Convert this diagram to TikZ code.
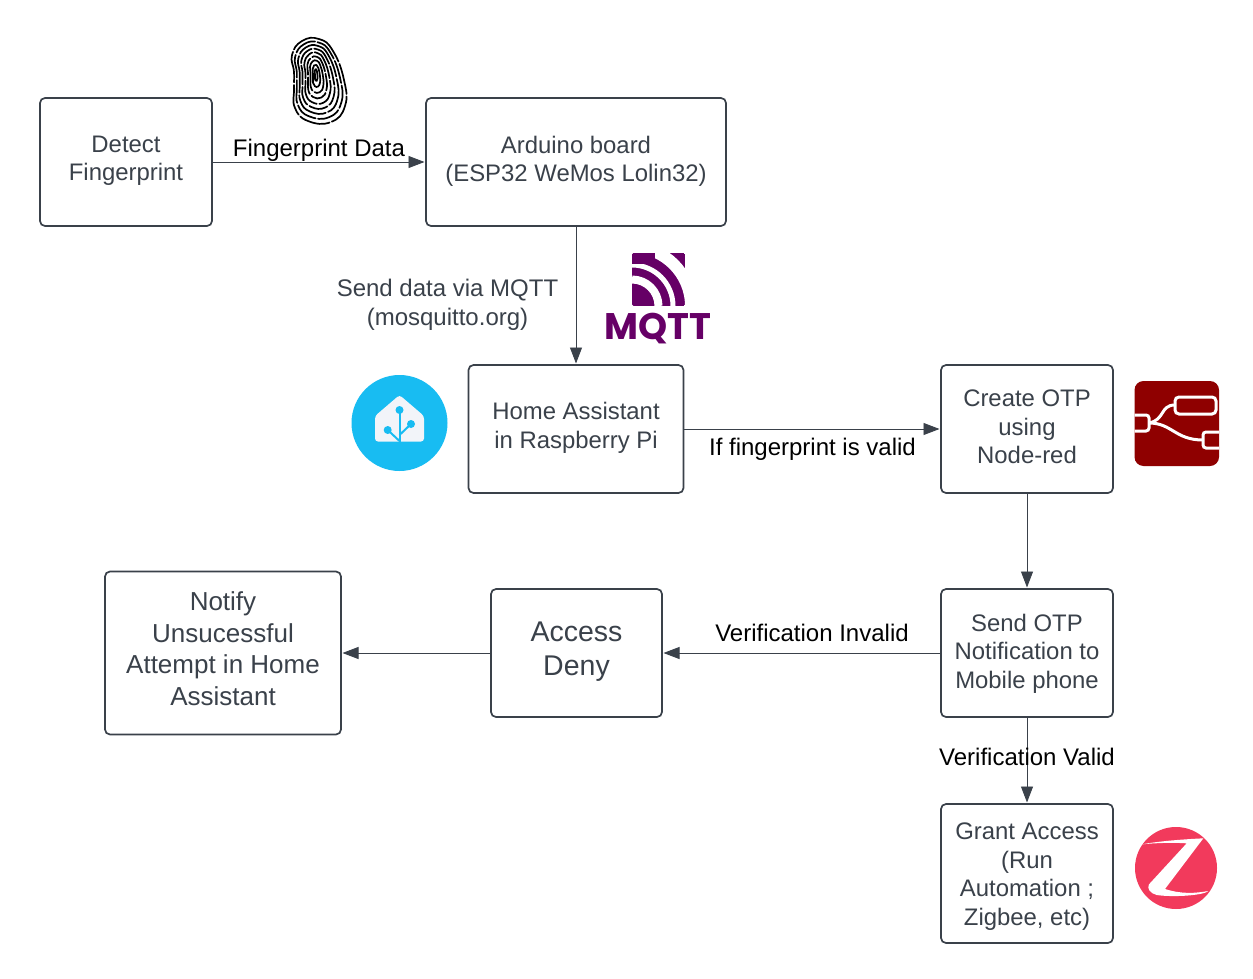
\documentclass[tikz,border=0pt]{standalone}
\usepackage{fontspec}
\setmainfont{Liberation Sans}
\newfontfamily\logofont{Poppins}
\usetikzlibrary{arrows.meta}
\definecolor{ink}{HTML}{3A414A}
\definecolor{mqttp}{HTML}{660066}
\definecolor{hablue}{HTML}{18BCF2}
\definecolor{hawhite}{HTML}{F2F4F9}
\definecolor{nred}{HTML}{8F0000}
\definecolor{zig}{HTML}{F23A5C}
\tikzset{
  box/.style={draw=ink,line width=1.7pt,rounded corners=5pt,inner sep=0pt,outer sep=0pt,align=center,text=ink,font=\fontsize{23.9}{28.5}\selectfont},
  conn/.style={draw=ink,line width=0.9pt,shorten >=1.5pt,-{Triangle[length=16pt,width=12pt]}},
  lab/.style={align=center,inner sep=0pt,text=black,font=\fontsize{24}{28.5}\selectfont},
  fp/.style={line width=1.7pt,line cap=round,black},
}
% name, x, y, w, h, text shift, options, text
\newcommand{\mybox}[8]{\node[box,minimum width=#4 pt,minimum height=#5 pt,#7] (#1) at (#2,#3) {};
  \node[box,draw=none,#7] (#1t) at (#2,#3+#6) {#8};}
\begin{document}
\begin{tikzpicture}[x=1pt,y=-1pt]
\useasboundingbox (0,0) rectangle (1253,979);
\fill[white] (0,0) rectangle (1253,979);
% boxes
\mybox{detect}{126}{162}{172}{128}{-1.3}{}{Detect\\Fingerprint}
\mybox{arduino}{576}{162}{300}{128}{-0.5}{}{Arduino board\\(ESP32 WeMos Lolin32)}
\mybox{ha}{576}{429}{215}{128}{-1}{}{Home Assistant\\in Raspberry Pi}
\mybox{otp}{1027}{429}{172}{128}{-2}{}{Create OTP\\using\\Node-red}
\mybox{send}{1027}{653}{172}{128}{0.4}{}{Send OTP\\Notification to\\Mobile phone}
\mybox{deny}{576.5}{653}{171}{128}{-1}{font=\fontsize{28.5}{34}\selectfont}{Access\\Deny}
\mybox{notify}{223}{653}{236}{163}{-4.5}{font=\fontsize{26}{31.5}\selectfont}{Notify\\Unsucessful\\Attempt in Home\\Assistant}
\mybox{grant}{1027}{873.5}{172}{139}{3}{}{Grant Access\\(Run\\Automation ;\\Zigbee, etc)}
% connectors
\draw[conn] (detect) -- (arduino);
\draw[conn] (arduino) -- (ha);
\draw[conn] (ha) -- (otp);
\draw[conn] (otp) -- (send);
\draw[conn] (send) -- (deny);
\draw[conn] (deny) -- (notify);
\draw[conn] (send) -- (grant);
% labels
\node[lab] (l1) at (319,150) {Fingerprint Data};
\node[lab,text=ink] (l2) at (447.5,305) {Send data via MQTT\\(mosquitto.org)};
\node[lab] (l3) at (812.5,449) {If fingerprint is valid};
\node[lab] (l4) at (812,633) {Verification Invalid};
\node[lab] (l5) at (1027,757) {Verification Valid};
% fingerprint
\foreach \s/\t/\d in {1/1/31,.87/.9/23,.74/.8/37,.61/.7/19,.48/.6/29,.36/.49/17,.25/.38/40,.14/.26/60,.05/.14/60}{
  \begin{scope}[shift={(316,74)},xscale=\s,yscale=\t]
  \draw[fp,dash pattern=on \d pt off 2.5pt] plot[smooth cycle,tension=.8] coordinates
   {(-14,-33) (3,-35) (17,-23) (28,6) (29,32) (15,48) (-8,47) (-21,34) (-22,15) (-22,-2) (-24,-19)};
  \end{scope}
}
% MQTT logo
\begin{scope}
\clip[rounded corners=1.5pt] (632,253) rectangle (685,306);
\fill[mqttp] (632,253) rectangle (685,306);
\draw[white,line width=8pt] (632,279.5) arc[start angle=90,end angle=0,x radius=26.5pt,y radius=26.5pt];
\draw[white,line width=5pt] (632,265) arc[start angle=90,end angle=0,x radius=41pt,y radius=41pt];
\draw[white,line width=12pt] (632,247) arc[start angle=90,end angle=0,x radius=59pt,y radius=59pt];
\fill[mqttp] (632,253) rectangle (655,264);
\end{scope}
\node[inner sep=0pt,text=mqttp,font=\fontsize{37}{38}\logofont\bfseries\selectfont] (mqtt) at (658,329) {MQTT};
% Home Assistant logo
\fill[hablue] (399.5,423) circle[radius=48];
\fill[hawhite,rounded corners=3pt] (375,441.5) -- (375,416) -- (399.5,395) -- (424,416) -- (424,441.5) -- cycle;
\begin{scope}[draw=hablue,fill=hablue,line width=2pt]
\draw (399.5,410) -- (399.5,442);
\draw (387.7,430) -- (399.5,441);
\draw (411,424) -- (399.5,435);
\fill (399.5,410) circle[radius=4];
\fill (387.7,430) circle[radius=4];
\fill (411,424) circle[radius=4];
\end{scope}
% Node-RED logo
\fill[nred,rounded corners=9pt] (1134.5,381) rectangle (1219,466);
\begin{scope}
\clip[rounded corners=9pt] (1134.5,381) rectangle (1219,466);
\draw[white,line width=3pt] (1149,423) .. controls (1165,420) and (1160,405) .. (1175,405);
\draw[white,line width=3pt] (1149,423) .. controls (1172,423) and (1175,440) .. (1203,440);
\draw[white,line width=3pt,rounded corners=3pt] (1130,415) -- (1149,415) -- (1149,431) -- (1130,431);
\draw[white,line width=3pt,fill=nred,rounded corners=4pt] (1175,397) rectangle (1216,414);
\draw[white,line width=3pt,rounded corners=3pt] (1225,432) -- (1203,432) -- (1203,448) -- (1225,448);
\end{scope}
% Zigbee logo
\fill[zig] (1176,868) circle[radius=41];
\begin{scope}[shift={(1125,815)},x=.3333pt,y=-.3333pt]
\fill[white] (52,88) .. controls (100,78) and (190,72) .. (235,70)
  -- (120,222) .. controls (170,238) and (210,235) .. (250,228)
  .. controls (240,240) and (150,248) .. (95,240)
  .. controls (75,235) and (65,220) .. (72,208)
  -- (185,85) .. controls (140,82) and (90,84) .. (52,88) -- cycle;
\end{scope}
\end{tikzpicture}
\end{document}
